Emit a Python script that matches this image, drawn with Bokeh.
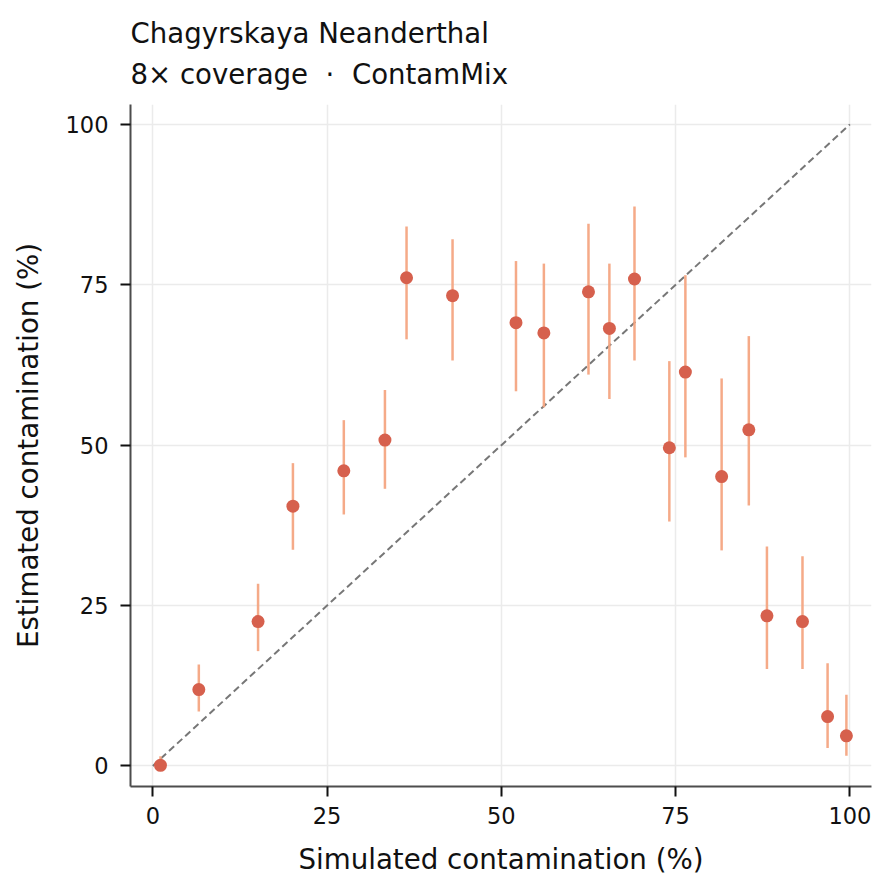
from bokeh.plotting import figure
from bokeh.models import FixedTicker, Title, Range1d, ColumnDataSource
from bokeh.embed import file_html
from bokeh.resources import INLINE

# Data
simulated = [1.1, 6.6, 15.1, 20.1, 27.4, 33.3, 36.4, 43.0, 52.1, 56.1, 62.5,
             65.5, 69.1, 74.1, 76.4, 81.6, 85.5, 88.1, 93.2, 96.8, 99.5]
estimated = [0.1, 11.9, 22.5, 40.5, 46.0, 50.8, 76.1, 73.3, 69.1, 67.5, 73.9,
             68.2, 75.9, 49.6, 61.4, 45.1, 52.4, 23.4, 22.5, 7.7, 4.7]
err_low = [0.0, 8.5, 17.9, 33.7, 39.2, 43.2, 66.5, 63.2, 58.4, 55.9, 61.0,
           57.2, 63.2, 38.1, 48.1, 33.6, 40.6, 15.1, 15.1, 2.8, 1.6]
err_high = [1.5, 15.8, 28.4, 47.2, 53.9, 58.6, 84.1, 82.1, 78.7, 78.3, 84.5,
            78.3, 87.2, 63.1, 76.5, 60.4, 67.0, 34.2, 32.7, 16.0, 11.1]
identity = [0, 100]
ticks = [0, 25, 50, 75, 100]

title_line1 = "Chagyrskaya Neanderthal"
title_line2 = "8\u00d7 coverage\u00a0\u00a0\u00b7\u00a0\u00a0ContamMix"
x_label = "Simulated contamination (%)"
y_label = "Estimated contamination (%)"

FONT = "DejaVu Sans"

src = ColumnDataSource(dict(x=simulated, y=estimated, lo=err_low, hi=err_high))

p = figure(width=886, height=885, output_backend="svg", toolbar_location=None,
           x_range=Range1d(-3.2, 103.1), y_range=Range1d(-3.2, 103.1),
           min_border_left=130, min_border_right=15, min_border_top=104,
           min_border_bottom=99)

p.outline_line_color = None
p.background_fill_color = "white"
p.border_fill_color = "white"

title = Title(text=title_line1 + "\n" + title_line2, align="left",
              text_font=FONT, text_font_size="27.6px", text_font_style="normal",
              text_color="#111111", text_line_height=1.25, standoff=27)
p.add_layout(title, "above")

for ax in (p.xaxis[0], p.yaxis[0]):
    ax.ticker = FixedTicker(ticks=ticks)
    ax.axis_line_color = "#4d4d4d"
    ax.axis_line_width = 2
    ax.major_tick_line_color = "#111111"
    ax.major_tick_line_width = 2
    ax.major_tick_out = 10
    ax.major_tick_in = 0
    ax.minor_tick_line_color = None
    ax.major_label_text_font = FONT
    ax.major_label_text_font_size = "22.5px"
    ax.major_label_text_color = "#111111"
    ax.axis_label_text_font = FONT
    ax.axis_label_text_font_size = "27.7px"
    ax.axis_label_text_font_style = "normal"
    ax.axis_label_text_color = "#111111"

p.xaxis.axis_label = x_label
p.yaxis.axis_label = y_label
p.xaxis.major_label_standoff = 10
p.yaxis.major_label_standoff = 12
p.xaxis.axis_label_standoff = 16
p.yaxis.axis_label_standoff = 18

for g in (p.xgrid[0], p.ygrid[0]):
    g.ticker = FixedTicker(ticks=ticks)
    g.grid_line_color = "#ebebeb"
    g.grid_line_width = 1.5

p.line(identity, identity, line_color="#777777", line_width=2, line_dash="7 4")
p.segment(x0="x", y0="lo", x1="x", y1="hi", source=src,
          line_color="#f4a582", line_width=2.5, line_alpha=0.95)
p.scatter(x="x", y="y", source=src, size=13, fill_color="#d6604d",
          line_color=None)

open("out.html", "w").write(file_html(p, INLINE))
